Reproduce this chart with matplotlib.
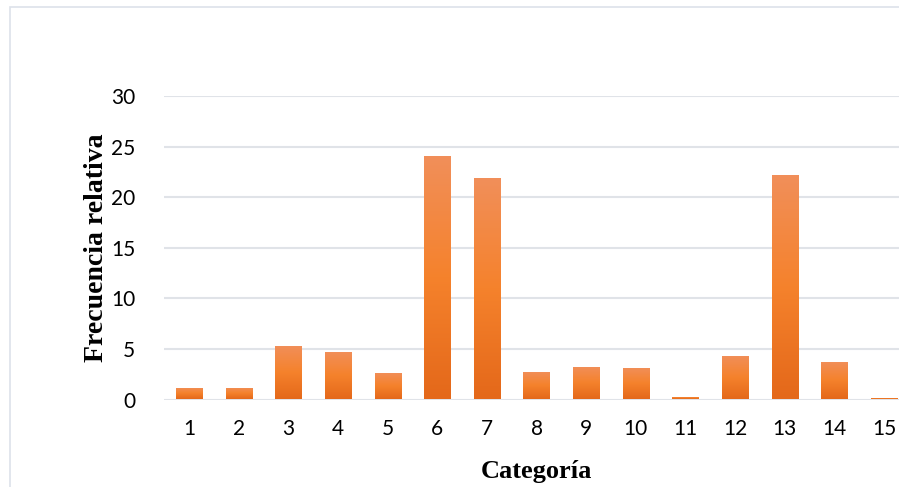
import matplotlib

matplotlib.use("Agg")
import matplotlib.pyplot as plt  # noqa: E402
import numpy as np  # noqa: E402
from matplotlib.colors import LinearSegmentedColormap  # noqa: E402
from matplotlib.patches import Rectangle  # noqa: E402

categorias = ["1", "2", "3", "4", "5", "6", "7", "8", "9", "10", "11", "12", "13", "14", "15"]
frecuencia = [1.14, 1.14, 5.3, 4.7, 2.62, 24.1, 21.9, 2.72, 3.2, 3.12, 0.25, 4.3, 22.2, 3.7, 0.15]
yticks = [0, 5, 10, 15, 20, 25, 30]

W, H = 899, 487
fig = plt.figure(figsize=(W / 100, H / 100), dpi=100)
ax = fig.add_axes([164.2 / W, 1 - 399.5 / H, 744.6 / W, 303.5 / H])

# marco gris claro del gráfico (recortado a la derecha y abajo)
fig.patches.append(Rectangle((10 / W, -0.05), 1.1, 1 - 7 / H + 0.05, transform=fig.transFigure,
                             fill=False, edgecolor="#dde2ea", linewidth=1.2))

grad = LinearSegmentedColormap.from_list("naranja", ["#e4681a", "#f5822c", "#f18f5a"])
x = np.arange(len(categorias))
bars = ax.bar(x, frecuencia, width=0.524, color="none", edgecolor="none", zorder=3)
g = np.linspace(0, 1, 256).reshape(-1, 1)
for b in bars:
    x0, h, w = b.get_x(), b.get_height(), b.get_width()
    im = ax.imshow(g, cmap=grad, origin="lower", aspect="auto",
                   extent=[x0, x0 + w, 0, h], zorder=3)
    im.set_clip_path(b)

ax.set_xlim(-0.5, len(categorias) - 0.5)
ax.set_ylim(0, 30)
ax.set_xticks(x)
ax.set_xticklabels(categorias)
ax.set_yticks(yticks)
ax.tick_params(length=0, labelsize=15, pad=14)
ax.tick_params(axis="y", pad=21)
for lab in ax.get_xticklabels() + ax.get_yticklabels():
    lab.set_family("Lato")
ax.grid(axis="y", color="#e0e3e8", linewidth=1.5, zorder=0)
ax.set_axisbelow(True)
for s in ax.spines.values():
    s.set_visible(False)

ax.set_xlabel("Categoría", family="Liberation Serif", fontweight="bold", fontsize=19, labelpad=15)
ax.set_ylabel("Frecuencia relativa", family="Liberation Serif", fontweight="bold", fontsize=20,
              labelpad=1)

fig.savefig("out.png", dpi=100)
